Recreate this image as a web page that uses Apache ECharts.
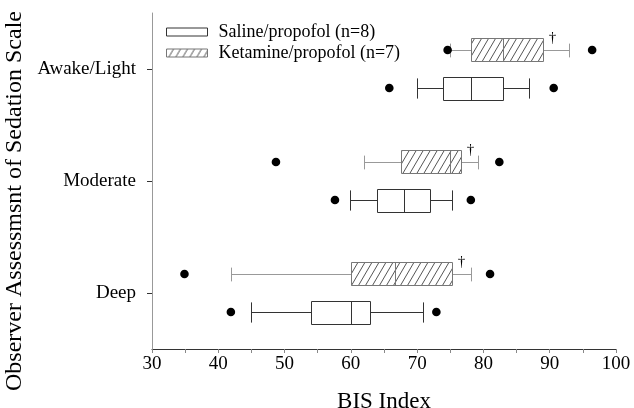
<!DOCTYPE html>
<html>
<head>
<meta charset="utf-8">
<script src="https://cdn.jsdelivr.net/npm/echarts@6/dist/echarts.min.js"></script>
<style>html,body{margin:0;padding:0;background:#fff}#c{width:634px;height:408px}</style>
</head>
<body>
<div id="c"></div>
<script>
// ---- data ----
const categories = ['Deep', 'Moderate', 'Awake/Light'];
const xTicks = [30, 40, 50, 60, 70, 80, 90, 100];
// [lower whisker, Q1, median, Q3, upper whisker]
const salineStats = [
  [45.0, 54.0, 60.0, 62.9, 70.9],
  [59.8, 64.0, 68.0, 71.9, 75.2],
  [70.0, 73.9, 78.1, 83.0, 86.9]
];
const salineOutliers = [[41.9, 72.9], [57.6, 78.1], [65.8, 90.6]];
const ketamineStats = [
  [41.9, 60.0, 66.6, 75.2, 78.1],
  [62.0, 67.5, 74.9, 76.6, 79.2],
  [75.0, 78.1, 83.0, 89.0, 92.9]
];
const ketamineOutliers = [[34.9, 81.0], [48.7, 82.4], [74.6, 96.4]];
const ketamineMarks = ['†', '†', '†'];

const salineName = 'Saline/propofol (n=8)';
const ketamineName = 'Ketamine/propofol (n=7)';
const FONT = '"Liberation Serif", "Times New Roman", serif';

function makeHatch() {
  const c = document.createElement('canvas');
  c.width = 7; c.height = 12;
  const ctx = c.getContext('2d');
  ctx.fillStyle = '#fff'; ctx.fillRect(0, 0, 7, 12);
  ctx.strokeStyle = '#555'; ctx.lineWidth = 1;
  for (let k = -1; k <= 1; k++) {
    ctx.beginPath(); ctx.moveTo(k * 7, 12); ctx.lineTo(k * 7 + 7, 0); ctx.stroke();
  }
  return c;
}
const hatch = { image: makeHatch(), repeat: 'repeat' };

function buildData(stats, outs) {
  return stats.map((s, i) => [i, s[0], s[1], s[2], s[3], s[4], outs[i][0], outs[i][1]]);
}

function makeRender(isKet) {
  const fill = isKet ? hatch : '#fff';
  const boxStroke = isKet ? '#777' : '#333';
  const whiskStroke = isKet ? '#999' : '#333';
  const capFrac = isKet ? 0.6 : 0.88;
  return function (params, api) {
    const cat = api.value(0);
    const X = v => Math.round(api.coord([v, cat])[0]) + 0.5;
    const band = api.size([0, 1])[1];
    const yc = api.coord([api.value(3), cat])[1] + (isKet ? -1 : 1) * band * 0.17;
    const h = band * 0.205;
    const top = Math.round(yc - h / 2) + 0.5, bot = Math.round(yc + h / 2) + 0.5;
    const ym = Math.round(yc) + 0.5;
    const lo = X(api.value(1)), q1 = X(api.value(2)), md = X(api.value(3)), q3 = X(api.value(4)), hi = X(api.value(5));
    const capH = h * capFrac;
    const lineStyle = { stroke: whiskStroke, lineWidth: 1 };
    const children = [
      { type: 'line', shape: { x1: lo, y1: ym, x2: q1, y2: ym }, style: lineStyle },
      { type: 'line', shape: { x1: q3, y1: ym, x2: hi, y2: ym }, style: lineStyle },
      { type: 'line', shape: { x1: lo, y1: ym - capH / 2, x2: lo, y2: ym + capH / 2 }, style: lineStyle },
      { type: 'line', shape: { x1: hi, y1: ym - capH / 2, x2: hi, y2: ym + capH / 2 }, style: lineStyle },
      { type: 'rect', shape: { x: q1, y: top, width: q3 - q1, height: bot - top }, style: { fill: fill, stroke: boxStroke, lineWidth: 1 } },
      { type: 'line', shape: { x1: md, y1: top, x2: md, y2: bot }, style: { stroke: boxStroke, lineWidth: 1 } },
      { type: 'circle', shape: { cx: api.coord([api.value(6), cat])[0], cy: yc, r: 4.3 }, style: { fill: '#000' } },
      { type: 'circle', shape: { cx: api.coord([api.value(7), cat])[0], cy: yc, r: 4.3 }, style: { fill: '#000' } }
    ];
    if (isKet) {
      children.push({ type: 'text', x: q3 + 9, y: top, style: { text: ketamineMarks[cat], fill: '#000', font: '15px ' + FONT, textAlign: 'center', textVerticalAlign: 'middle' } });
    }
    return { type: 'group', children: children };
  };
}

const chart = echarts.init(document.getElementById('c'), null, { renderer: 'canvas' });
chart.setOption({
  animation: false,
  backgroundColor: '#fff',
  textStyle: { fontFamily: FONT },
  grid: { left: 152, right: 18, top: 13, bottom: 59, containLabel: false, outerBoundsMode: 'none' },
  legend: {
    left: 161, top: 18, orient: 'vertical',
    itemWidth: 41, itemHeight: 8, itemGap: 3,
    textStyle: { fontFamily: FONT, fontSize: 18, color: '#000', padding: [0, 0, 0, 6] },
    data: [
      { name: salineName, icon: 'rect', itemStyle: { color: '#fff', borderColor: '#333', borderWidth: 1 } },
      { name: ketamineName, icon: 'rect', itemStyle: { color: hatch, borderColor: '#777', borderWidth: 1 } }
    ]
  },
  xAxis: {
    type: 'value', min: 30, max: 100, interval: 10,
    name: 'BIS Index', nameLocation: 'middle', nameGap: 41,
    nameTextStyle: { fontFamily: FONT, fontSize: 23, color: '#000' },
    axisLine: { show: true, lineStyle: { color: '#333', width: 1 } },
    axisTick: { show: true, length: 4, lineStyle: { color: '#888' } },
    minorTick: { show: true, splitNumber: 2, length: 4, lineStyle: { color: '#888' } },
    axisLabel: { fontFamily: FONT, fontSize: 19, color: '#000', margin: 6, formatter: v => xTicks.indexOf(v) >= 0 ? String(v) : '' },
    splitLine: { show: false }
  },
  yAxis: {
    type: 'category', data: categories, boundaryGap: true,
    name: 'Observer Assessmsnt of Sedation Scale', nameLocation: 'middle', nameGap: 125,
    nameTextStyle: { fontFamily: FONT, fontSize: 24, color: '#000', padding: [0, 40, 0, 0] },
    axisLine: { show: true, lineStyle: { color: '#999', width: 1 } },
    axisTick: { show: true, alignWithLabel: true, length: 5, lineStyle: { color: '#333' } },
    axisLabel: { fontFamily: FONT, fontSize: 19, color: '#000', margin: 16 },
    splitLine: { show: false }
  },
  series: [
    {
      name: salineName, type: 'custom', renderItem: makeRender(false),
      itemStyle: { color: '#fff', borderColor: '#333', borderWidth: 1 },
      encode: { x: [1, 2, 3, 4, 5, 6, 7], y: 0 },
      data: buildData(salineStats, salineOutliers)
    },
    {
      name: ketamineName, type: 'custom', renderItem: makeRender(true),
      itemStyle: { color: hatch, borderColor: '#777', borderWidth: 1 },
      encode: { x: [1, 2, 3, 4, 5, 6, 7], y: 0 },
      data: buildData(ketamineStats, ketamineOutliers)
    }
  ]
});
</script>
</body>
</html>
